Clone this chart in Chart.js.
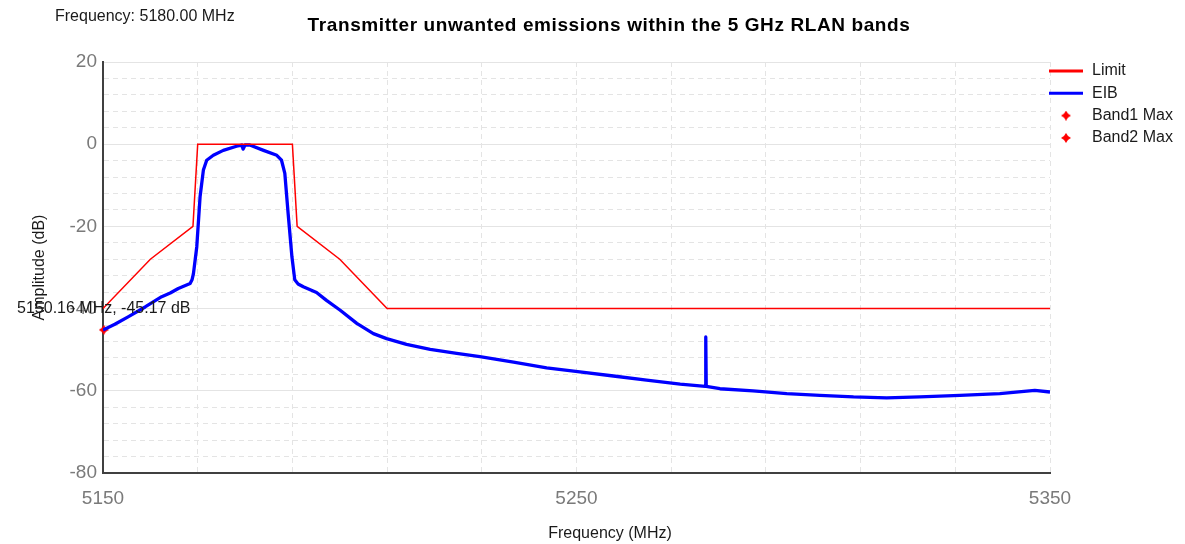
<!DOCTYPE html>
<html>
<head>
<meta charset="utf-8">
<title>Transmitter unwanted emissions</title>
<script src="https://cdn.jsdelivr.net/npm/chart.js@4"></script>
<style>
  html, body { margin: 0; padding: 0; background: #fff; }
  #wrap { width: 1185px; height: 544px; }
</style>
</head>
<body>
<div id="wrap"><canvas id="emissions" width="1185" height="544"></canvas></div>
<script>
// mask for the 20 MHz channel at 5180 MHz
const limitFreq  = [5150, 5160, 5169, 5170, 5190, 5191, 5200, 5210, 5350];
const limitLevel = [-40,  -28,  -20,  0,    0,    -20,  -28,  -40,  -40];

const eibFreq = [
  5150.0, 5152.5, 5155.3, 5158.9, 5162.4, 5164.2, 5165.9, 5168.4, 5168.8, 5169.1,
  5169.8, 5170.5, 5171.2, 5171.9, 5173.3, 5175.4, 5178.2, 5179.3, 5179.6, 5180.0,
  5181.0, 5183.9, 5186.7, 5187.7, 5188.4, 5189.1, 5189.9, 5190.5, 5191.2, 5192.3,
  5195.1, 5197.2, 5200.1, 5203.6, 5207.1, 5209.9, 5214.1, 5219.1, 5224.7, 5229.6,
  5236.7, 5243.7, 5250.7, 5257.8, 5264.8, 5271.9, 5277.2, 5277.3, 5277.4, 5280.3,
  5287.3, 5294.4, 5301.4, 5308.5, 5315.5, 5322.5, 5331.0, 5339.4, 5346.8, 5350.0
];
const eibLevel = [
  -45.2, -43.8, -42.0, -39.6, -37.1, -36.2, -35.1, -33.9, -33.0, -31.5,
  -25.0, -12.8, -6.3,  -3.9,  -2.7,  -1.5,  -0.5,  -0.2,  -1.2,  -0.2,
  -0.2,  -1.5,  -2.7,  -3.9,  -7.1,  -16.9, -27.4, -33.0, -34.0, -34.7,
  -36.1, -38.0, -40.4, -43.6, -46.1, -47.3, -48.7, -49.9, -50.9, -51.7,
  -53.0, -54.4, -55.4, -56.4, -57.4, -58.4, -58.9, -46.9, -58.9, -59.5,
  -60.0, -60.7, -61.1, -61.5, -61.7, -61.5, -61.1, -60.7, -59.9, -60.3
];

const band1Freq  = [5150.16];
const band1Level = [-45.17];
const band2Freq  = [];
const band2Level = [];

const xTickLabels = [5150, 5250, 5350];
const yTickLabels = [20, 0, -20, -40, -60, -80];

const chartTitle = "Transmitter unwanted emissions within the 5 GHz RLAN bands";
const cursorText = "Frequency: 5180.00 MHz";
const FONT = "'Liberation Sans', Arial, sans-serif";

function pts(xs, ys) {
  return xs.map((x, i) => ({ x: x, y: ys[i] }));
}

function starImage(color, size) {
  const c = document.createElement("canvas");
  c.width = c.height = size;
  const g = c.getContext("2d");
  const h = size / 2, k = size * 0.2;
  g.fillStyle = color;
  g.beginPath();
  g.moveTo(h, 0); g.lineTo(h + k, h - k); g.lineTo(size, h); g.lineTo(h + k, h + k);
  g.lineTo(h, size); g.lineTo(h - k, h + k); g.lineTo(0, h); g.lineTo(h - k, h - k);
  g.closePath();
  g.fill();
  return c;
}
const star = starImage("#ff0000", 10);

// texts that the default chart title/legend can't place like the original
const overlay = {
  id: "overlay",
  afterDraw(chart) {
    const ctx = chart.ctx;
    const area = chart.chartArea;
    ctx.save();
    ctx.fillStyle = "#000";
    ctx.textBaseline = "middle";

    ctx.font = "bold 19px " + FONT;
    ctx.textAlign = "center";
    ctx.letterSpacing = "0.6px";
    ctx.fillText(chartTitle, 609, 26);
    ctx.letterSpacing = "0px";

    ctx.font = "16px " + FONT;
    ctx.fillStyle = "#1a1a1a";
    ctx.textAlign = "left";
    ctx.fillText(cursorText, 55, 17);

    ctx.textAlign = "center";
    ctx.fillText("Frequency (MHz)", 610, 534);

    ctx.save();
    ctx.translate(40, (area.top + area.bottom) / 2);
    ctx.rotate(-Math.PI / 2);
    ctx.fillText("Amplitude (dB)", 0, 0);
    ctx.restore();

    // marker readout
    const m = chart.getDatasetMeta(2).data[0];
    if (m) {
      ctx.textAlign = "center";
      ctx.fillText(band1Freq[0].toFixed(2) + " MHz, " + band1Level[0].toFixed(2) + " dB", m.x, m.y - 21);
    }

    // legend
    const lx = area.right - 1, ly = 71, step = 22.3;
    chart.data.datasets.forEach((ds, i) => {
      const y = ly + i * step;
      if (ds.showLine === false) {
        ctx.drawImage(star, lx + 17 - star.width / 2, y - star.height / 2);
      } else {
        ctx.strokeStyle = ds.borderColor;
        ctx.lineWidth = 3;
        ctx.beginPath();
        ctx.moveTo(lx, y);
        ctx.lineTo(lx + 34, y);
        ctx.stroke();
      }
      ctx.fillStyle = "#1a1a1a";
      ctx.textAlign = "left";
      ctx.fillText(ds.label, lx + 43, y);
    });
    ctx.restore();
  }
};

new Chart(document.getElementById("emissions"), {
  type: "scatter",
  data: {
    datasets: [
      {
        label: "Limit",
        data: pts(limitFreq, limitLevel),
        showLine: true,
        borderColor: "#ff0000",
        borderWidth: 1.5,
        pointRadius: 0,
        tension: 0
      },
      {
        label: "EIB",
        data: pts(eibFreq, eibLevel),
        showLine: true,
        borderColor: "#0000ff",
        borderWidth: 3.3,
        borderJoinStyle: "round",
        pointRadius: 0,
        tension: 0
      },
      {
        label: "Band1 Max",
        data: pts(band1Freq, band1Level),
        showLine: false,
        pointStyle: star,
        pointRadius: 5,
        clip: false
      },
      {
        label: "Band2 Max",
        data: pts(band2Freq, band2Level),
        showLine: false,
        pointStyle: star,
        pointRadius: 5,
        clip: false
      }
    ]
  },
  options: {
    responsive: false,
    animation: false,
    layout: { padding: { left: 0, top: 62, right: 135, bottom: 31 } },
    plugins: {
      legend: { display: false },
      title: { display: false },
      tooltip: { enabled: false }
    },
    scales: {
      x: {
        type: "linear",
        min: 5150,
        max: 5350,
        afterFit: s => { s.height = 40; },
        ticks: {
          stepSize: 20,
          autoSkip: false,
          maxRotation: 0,
          padding: 14,
          color: "#7a7a7a",
          font: { family: FONT, size: 19 },
          callback: v => xTickLabels.includes(v) ? String(v) : ""
        },
        grid: { drawTicks: false, color: "#e4e4e4", lineWidth: 1 },
        border: { color: "#404040", width: 2, dash: [5, 4] }
      },
      y: {
        min: -80,
        max: 20,
        afterFit: s => { s.width = 103; },
        ticks: {
          stepSize: 4,
          autoSkip: false,
          padding: 6,
          color: "#7a7a7a",
          font: { family: FONT, size: 19 },
          callback: v => yTickLabels.includes(Math.round(v)) && Math.abs(v - Math.round(v)) < 1e-6 ? String(Math.round(v)) : ""
        },
        grid: { drawTicks: false, color: "#e4e4e4", lineWidth: 1 },
        border: {
          color: "#404040",
          width: 2,
          dash: ctx => (ctx.tick && yTickLabels.includes(Math.round(ctx.tick.value))) ? [] : [5, 4]
        }
      }
    }
  },
  plugins: [overlay]
});
</script>
</body>
</html>
